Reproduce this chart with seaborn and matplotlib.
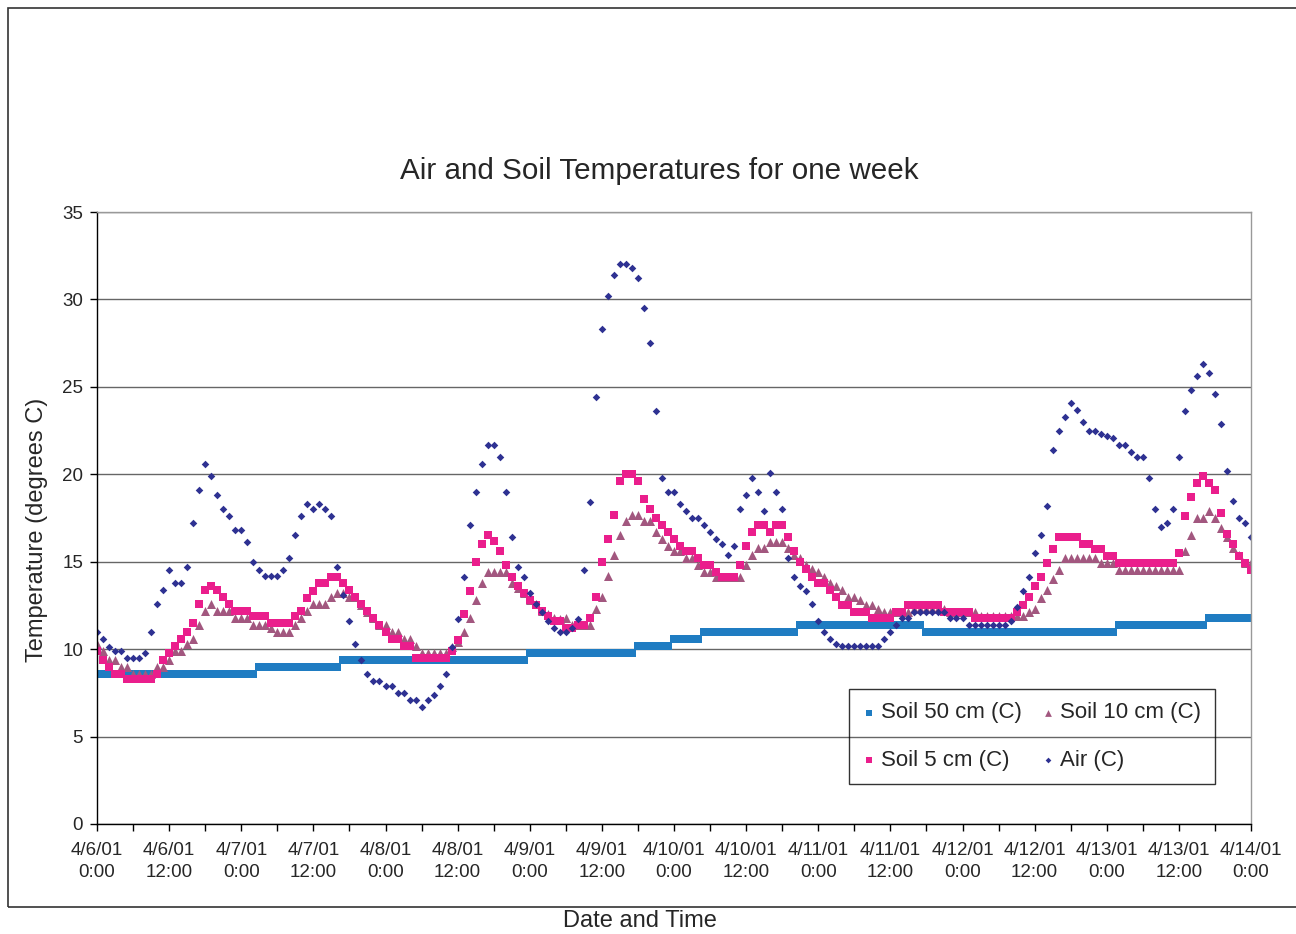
import matplotlib
matplotlib.use('Agg')
import matplotlib.pyplot as plt
from matplotlib.patches import Rectangle
import pandas as pd
import seaborn as sns

# hourly readings, 4/6/01 0:00 .. 4/14/01 0:00
times = pd.date_range('2001-04-06 00:00', '2001-04-14 00:00', freq='h')

soil_50 = [
    8.6, 8.6, 8.6, 8.6, 8.6, 8.6, 8.6, 8.6, 8.6, 8.6,
    8.6, 8.6, 8.6, 8.6, 8.6, 8.6, 8.6, 8.6, 8.6, 8.6,
    8.6, 8.6, 8.6, 8.6, 8.6, 8.6, 8.6, 9.0, 9.0, 9.0,
    9.0, 9.0, 9.0, 9.0, 9.0, 9.0, 9.0, 9.0, 9.0, 9.0,
    9.0, 9.4, 9.4, 9.4, 9.4, 9.4, 9.4, 9.4, 9.4, 9.4,
    9.4, 9.4, 9.4, 9.4, 9.4, 9.4, 9.4, 9.4, 9.4, 9.4,
    9.4, 9.4, 9.4, 9.4, 9.4, 9.4, 9.4, 9.4, 9.4, 9.4,
    9.4, 9.4, 9.8, 9.8, 9.8, 9.8, 9.8, 9.8, 9.8, 9.8,
    9.8, 9.8, 9.8, 9.8, 9.8, 9.8, 9.8, 9.8, 9.8, 9.8,
    10.2, 10.2, 10.2, 10.2, 10.2, 10.2, 10.6, 10.6, 10.6, 10.6,
    10.6, 11.0, 11.0, 11.0, 11.0, 11.0, 11.0, 11.0, 11.0, 11.0,
    11.0, 11.0, 11.0, 11.0, 11.0, 11.0, 11.0, 11.4, 11.4, 11.4,
    11.4, 11.4, 11.4, 11.4, 11.4, 11.4, 11.4, 11.4, 11.4, 11.4,
    11.4, 11.4, 11.4, 11.4, 11.4, 11.4, 11.4, 11.4, 11.0, 11.0,
    11.0, 11.0, 11.0, 11.0, 11.0, 11.0, 11.0, 11.0, 11.0, 11.0,
    11.0, 11.0, 11.0, 11.0, 11.0, 11.0, 11.0, 11.0, 11.0, 11.0,
    11.0, 11.0, 11.0, 11.0, 11.0, 11.0, 11.0, 11.0, 11.0, 11.0,
    11.4, 11.4, 11.4, 11.4, 11.4, 11.4, 11.4, 11.4, 11.4, 11.4,
    11.4, 11.4, 11.4, 11.4, 11.4, 11.8, 11.8, 11.8, 11.8, 11.8,
    11.8, 11.8, 11.8,
]

soil_10 = [
    10.3, 9.9, 9.4, 9.4, 9.0, 9.0, 8.6, 8.6, 8.6, 8.6,
    9.0, 9.0, 9.4, 9.9, 9.9, 10.3, 10.6, 11.4, 12.2, 12.6,
    12.2, 12.2, 12.2, 11.8, 11.8, 11.8, 11.4, 11.4, 11.4, 11.2,
    11.0, 11.0, 11.0, 11.4, 11.8, 12.2, 12.6, 12.6, 12.6, 13.0,
    13.2, 13.2, 13.0, 13.0, 12.5, 12.1, 11.8, 11.4, 11.4, 11.0,
    11.0, 10.6, 10.6, 10.2, 9.8, 9.8, 9.8, 9.8, 9.8, 10.1,
    10.4, 11.0, 11.8, 12.8, 13.8, 14.4, 14.4, 14.4, 14.4, 13.8,
    13.5, 13.2, 12.8, 12.6, 12.2, 12.0, 11.8, 11.7, 11.8, 11.4,
    11.4, 11.4, 11.4, 12.3, 13.0, 14.2, 15.4, 16.5, 17.3, 17.7,
    17.7, 17.3, 17.3, 16.7, 16.3, 15.9, 15.6, 15.6, 15.2, 15.2,
    14.8, 14.4, 14.4, 14.1, 14.1, 14.1, 14.1, 14.1, 14.8, 15.4,
    15.8, 15.8, 16.1, 16.1, 16.1, 15.8, 15.4, 15.2, 14.8, 14.6,
    14.4, 14.1, 13.8, 13.6, 13.4, 13.0, 13.0, 12.8, 12.5, 12.5,
    12.3, 12.1, 12.1, 12.1, 12.1, 12.1, 12.3, 12.3, 12.3, 12.3,
    12.3, 12.3, 12.1, 12.1, 12.1, 12.1, 12.1, 11.9, 11.9, 11.9,
    11.9, 11.9, 11.9, 11.9, 11.9, 12.1, 12.3, 12.9, 13.4, 14.0,
    14.5, 15.2, 15.2, 15.2, 15.2, 15.2, 15.2, 14.9, 14.9, 14.9,
    14.5, 14.5, 14.5, 14.5, 14.5, 14.5, 14.5, 14.5, 14.5, 14.5,
    14.5, 15.6, 16.5, 17.5, 17.5, 17.9, 17.5, 16.9, 16.4, 15.8,
    15.4, 14.9, 14.9,
]

soil_5 = [
    9.9, 9.4, 9.0, 8.6, 8.6, 8.3, 8.3, 8.3, 8.3, 8.3,
    8.6, 9.4, 9.8, 10.2, 10.6, 11.0, 11.5, 12.6, 13.4, 13.6,
    13.4, 13.0, 12.6, 12.2, 12.2, 12.2, 11.9, 11.9, 11.9, 11.5,
    11.5, 11.5, 11.5, 11.9, 12.2, 12.9, 13.3, 13.8, 13.8, 14.1,
    14.1, 13.8, 13.4, 13.0, 12.6, 12.2, 11.8, 11.4, 11.0, 10.6,
    10.6, 10.2, 10.2, 9.5, 9.5, 9.5, 9.5, 9.5, 9.5, 9.9,
    10.5, 12.0, 13.3, 15.0, 16.0, 16.5, 16.2, 15.6, 14.8, 14.1,
    13.6, 13.2, 12.8, 12.5, 12.2, 11.9, 11.6, 11.6, 11.2, 11.2,
    11.4, 11.4, 11.8, 13.0, 15.0, 16.3, 17.7, 19.6, 20.0, 20.0,
    19.6, 18.6, 18.0, 17.5, 17.1, 16.7, 16.3, 15.9, 15.6, 15.6,
    15.2, 14.8, 14.8, 14.4, 14.1, 14.1, 14.1, 14.8, 15.9, 16.7,
    17.1, 17.1, 16.7, 17.1, 17.1, 16.4, 15.6, 15.0, 14.6, 14.1,
    13.8, 13.8, 13.4, 13.0, 12.5, 12.5, 12.1, 12.1, 12.1, 11.8,
    11.8, 11.8, 11.8, 12.1, 12.1, 12.5, 12.5, 12.5, 12.5, 12.5,
    12.5, 12.1, 12.1, 12.1, 12.1, 12.1, 11.8, 11.8, 11.8, 11.8,
    11.8, 11.8, 11.8, 12.1, 12.5, 13.0, 13.6, 14.1, 14.9, 15.7,
    16.4, 16.4, 16.4, 16.4, 16.0, 16.0, 15.7, 15.7, 15.3, 15.3,
    14.9, 14.9, 14.9, 14.9, 14.9, 14.9, 14.9, 14.9, 14.9, 14.9,
    15.5, 17.6, 18.7, 19.5, 19.9, 19.5, 19.1, 17.8, 16.6, 16.0,
    15.3, 14.9, 14.5,
]

air = [
    11.0, 10.6, 10.1, 9.9, 9.9, 9.5, 9.5, 9.5, 9.8, 11.0,
    12.6, 13.4, 14.5, 13.8, 13.8, 14.7, 17.2, 19.1, 20.6, 19.9,
    18.8, 18.0, 17.6, 16.8, 16.8, 16.1, 15.0, 14.5, 14.2, 14.2,
    14.2, 14.5, 15.2, 16.5, 17.6, 18.3, 18.0, 18.3, 18.0, 17.6,
    14.7, 13.1, 11.6, 10.3, 9.4, 8.6, 8.2, 8.2, 7.9, 7.9,
    7.5, 7.5, 7.1, 7.1, 6.7, 7.1, 7.4, 7.9, 8.6, 10.1,
    11.7, 14.1, 17.1, 19.0, 20.6, 21.7, 21.7, 21.0, 19.0, 16.4,
    14.7, 14.1, 13.2, 12.6, 12.1, 11.6, 11.2, 11.0, 11.0, 11.2,
    11.7, 14.5, 18.4, 24.4, 28.3, 30.2, 31.4, 32.0, 32.0, 31.8,
    31.2, 29.5, 27.5, 23.6, 19.8, 19.0, 19.0, 18.3, 17.9, 17.5,
    17.5, 17.1, 16.7, 16.3, 16.0, 15.4, 15.9, 18.0, 18.8, 19.8,
    19.0, 17.9, 20.1, 19.0, 18.0, 15.2, 14.1, 13.6, 13.3, 12.6,
    11.6, 11.0, 10.6, 10.3, 10.2, 10.2, 10.2, 10.2, 10.2, 10.2,
    10.2, 10.6, 11.0, 11.4, 11.8, 11.8, 12.1, 12.1, 12.1, 12.1,
    12.1, 12.1, 11.8, 11.8, 11.8, 11.4, 11.4, 11.4, 11.4, 11.4,
    11.4, 11.4, 11.6, 12.4, 13.3, 14.1, 15.5, 16.5, 18.2, 21.4,
    22.5, 23.3, 24.1, 23.7, 23.0, 22.5, 22.5, 22.3, 22.2, 22.1,
    21.7, 21.7, 21.3, 21.0, 21.0, 19.8, 18.0, 17.0, 17.2, 18.0,
    21.0, 23.6, 24.8, 25.6, 26.3, 25.8, 24.6, 22.9, 20.2, 18.5,
    17.5, 17.2, 16.4,
]

tick_times = pd.date_range('2001-04-06 00:00', '2001-04-14 00:00', freq='12h')
minor_times = pd.date_range('2001-04-06 06:00', '2001-04-13 18:00', freq='12h')
tick_labels = [
    '4/6/01\n0:00', '4/6/01\n12:00', '4/7/01\n0:00', '4/7/01\n12:00',
    '4/8/01\n0:00', '4/8/01\n12:00', '4/9/01\n0:00', '4/9/01\n12:00',
    '4/10/01\n0:00', '4/10/01\n12:00', '4/11/01\n0:00', '4/11/01\n12:00',
    '4/12/01\n0:00', '4/12/01\n12:00', '4/13/01\n0:00', '4/13/01\n12:00',
    '4/14/01\n0:00',
]

sns.set_style('white')
plt.rcParams['font.family'] = ['Liberation Sans', 'DejaVu Sans']

W, H = 1296, 934
fig = plt.figure(figsize=(W / 100, H / 100), dpi=100)
ax = fig.add_axes([97 / W, 1 - 824 / H, 1154 / W, 612 / H])

series = [
    ('Soil 50 cm (C)', soil_50, '#1f7cc2', 's', 40),
    ('Soil 10 cm (C)', soil_10, '#a2577f', '^', 42),
    ('Soil 5 cm (C)', soil_5, '#ea1e8c', 's', 40),
    ('Air (C)', air, '#2e3192', 'D', 15),
]
for name, vals, color, marker, size in series:
    sns.scatterplot(x=times, y=vals, ax=ax, color=color, marker=marker,
                    s=size, linewidth=0, label=name)

ax.set_xlim(tick_times[0], tick_times[-1])
ax.set_ylim(0, 35)
ax.set_yticks(range(0, 36, 5))
ax.set_xticks(tick_times)
ax.set_xticklabels(tick_labels)
ax.set_xticks(minor_times, minor=True)
ax.set_xlabel('')
ax.set_ylabel('')
ax.grid(axis='y', color='#666666', linewidth=1.0)
ax.set_axisbelow(True)

for side in ['left', 'bottom']:
    ax.spines[side].set_color('black')
    ax.spines[side].set_linewidth(1.0)
for side in ['top', 'right']:
    ax.spines[side].set_color('#999999')
    ax.spines[side].set_linewidth(1.0)

ax.tick_params(axis='both', which='both', direction='out', length=5, width=1,
               color='black', labelsize=13.5, bottom=True, left=True)
ax.tick_params(axis='x', which='both', pad=8)
ax.tick_params(axis='y', pad=5)
for lbl in ax.get_xticklabels():
    lbl.set_linespacing(1.4)

handles, labels = ax.get_legend_handles_labels()
order = [0, 2, 1, 3]
leg = ax.legend([handles[i] for i in order], [labels[i] for i in order],
                ncol=2, loc='lower left', bbox_to_anchor=(0.6516, 0.0654),
                fontsize=16, frameon=True, fancybox=False, edgecolor='black',
                facecolor='none', borderpad=0.6, labelspacing=1.18,
                handlelength=0.6, handletextpad=0.25, columnspacing=0.88,
                borderaxespad=0, markerscale=0.75)
leg.get_frame().set_linewidth(1.0)

fig.text(659 / W, 1 - 171 / H, 'Air and Soil Temperatures for one week',
         ha='center', va='center', fontsize=21.3)
fig.text(37 / W, 1 - 530 / H, 'Temperature (degrees C)', rotation=90,
         ha='center', va='center', fontsize=17)
fig.text(640 / W, 1 - 921 / H, 'Date and Time', ha='center', va='center',
         fontsize=17)

fig.patches.append(Rectangle((8 / W, 1 - 907 / H), 1320 / W, 899 / H,
                             transform=fig.transFigure, fill=False,
                             edgecolor='#333333', linewidth=1.2))

fig.savefig('out.png', dpi=100)
